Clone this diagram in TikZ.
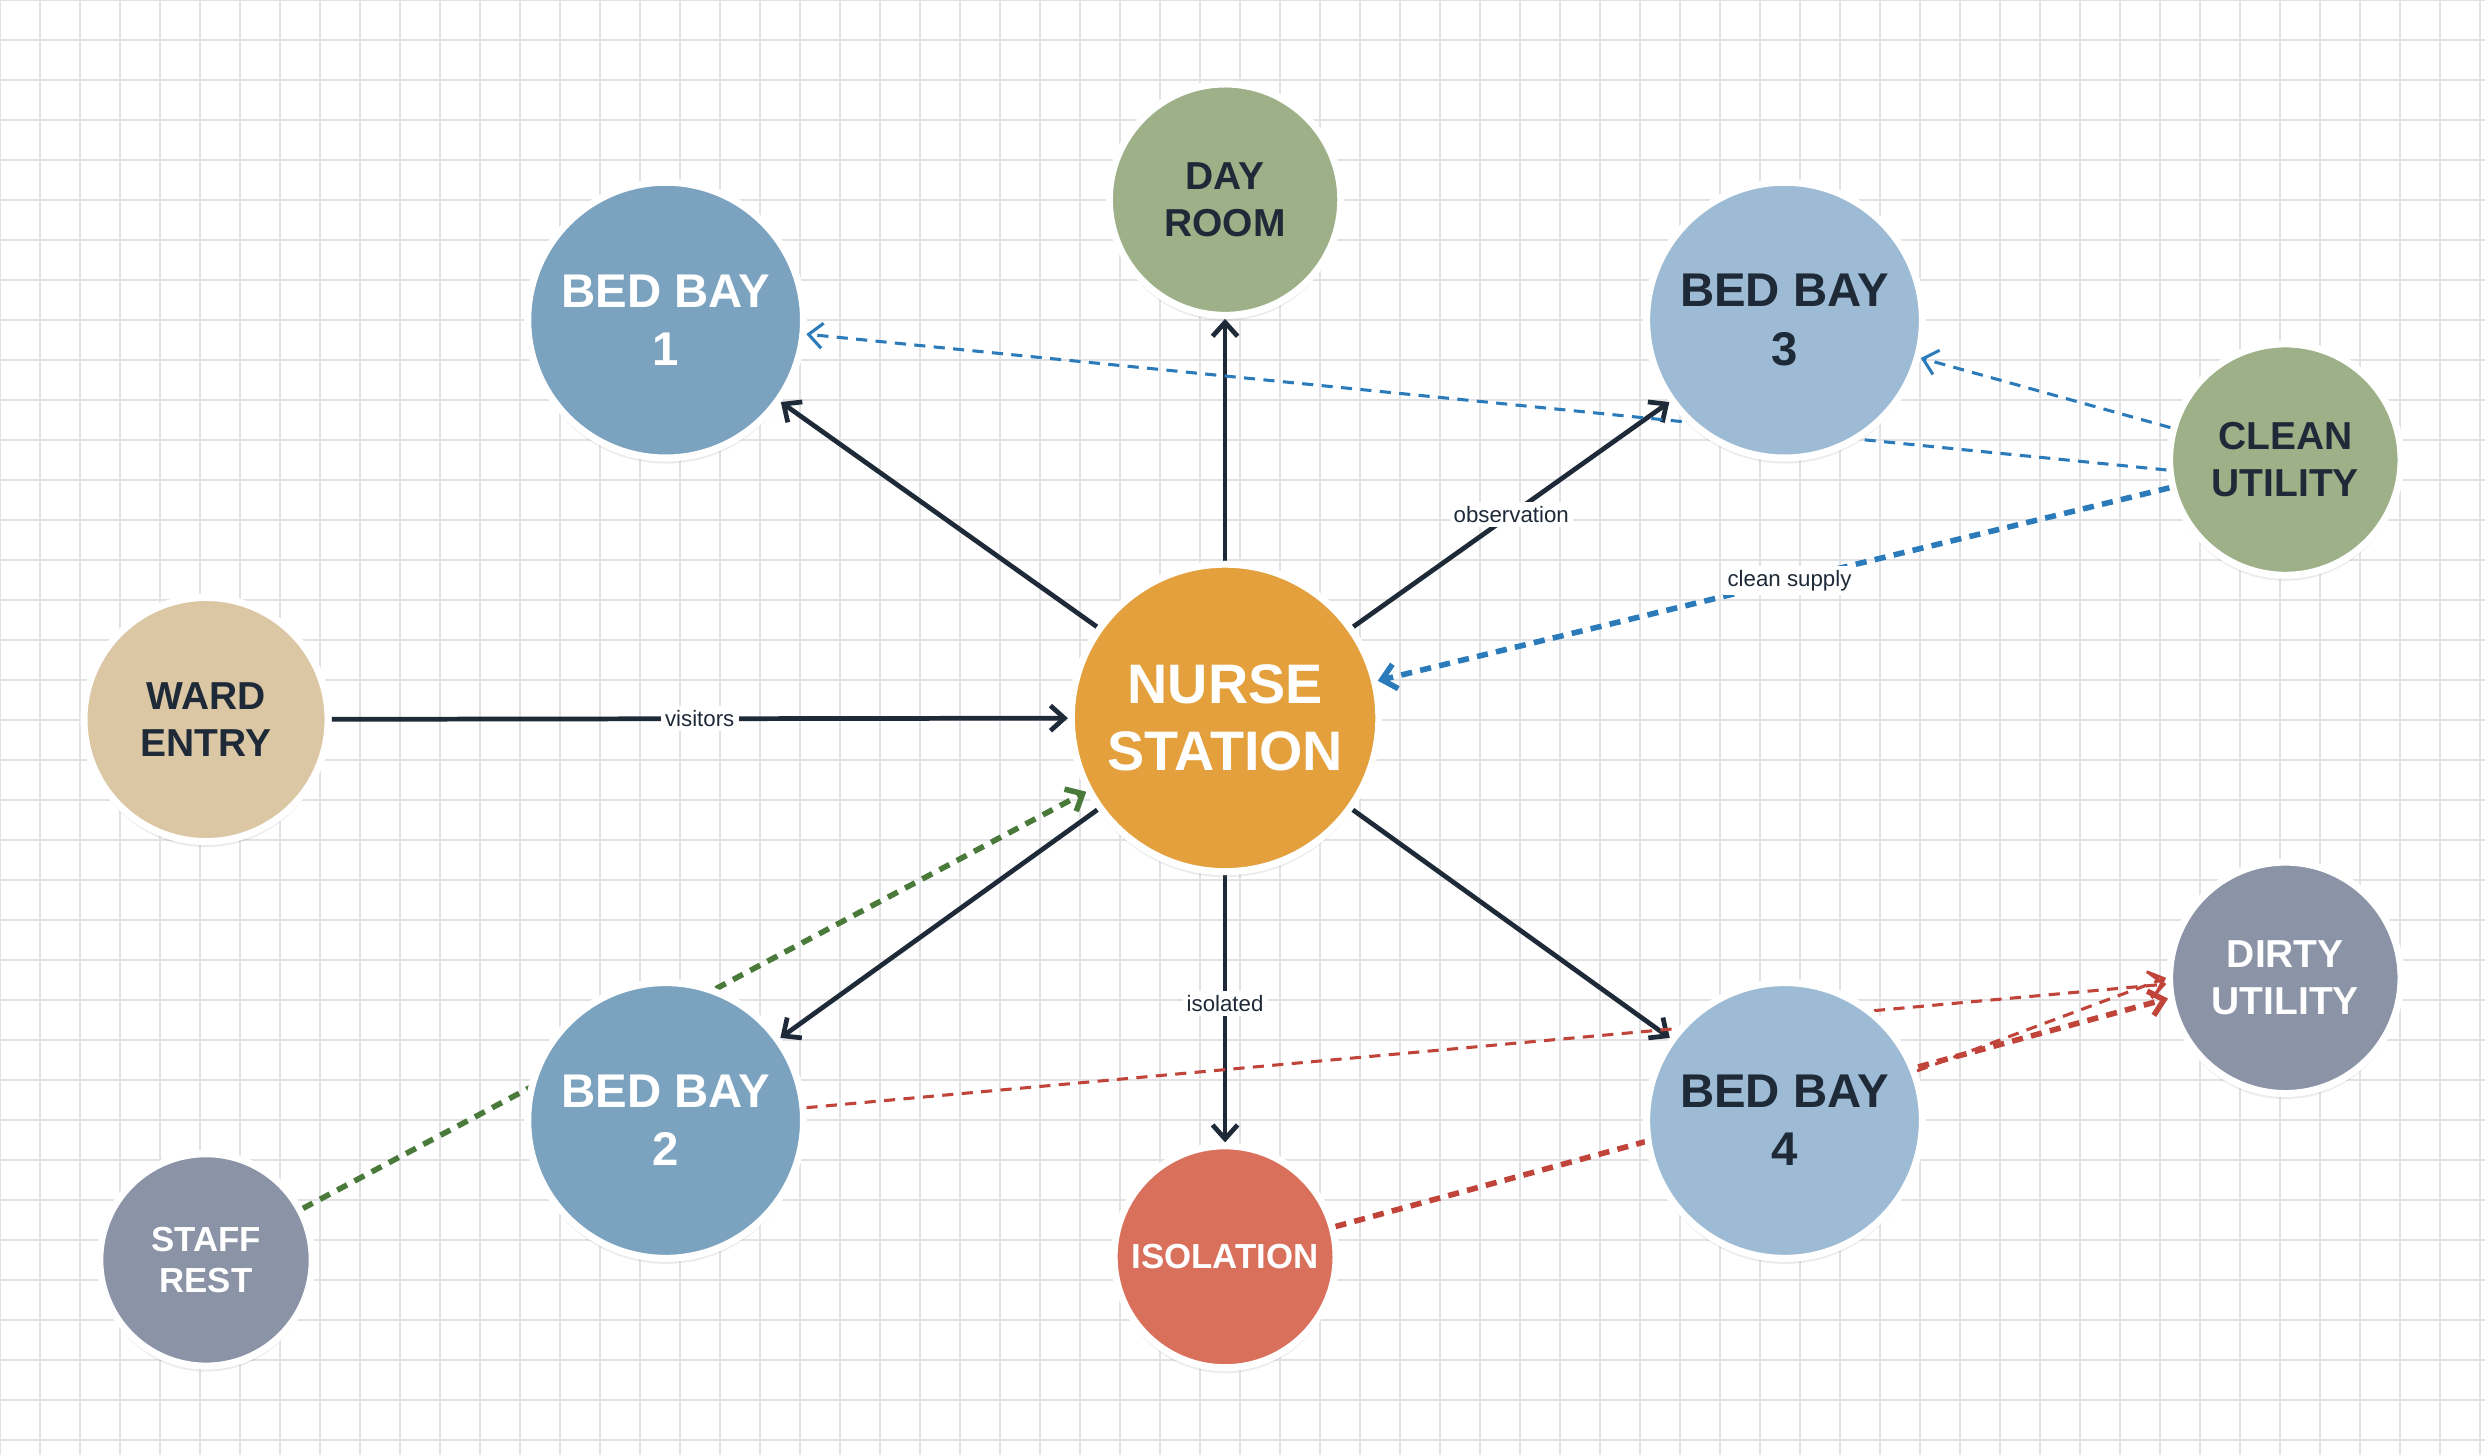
\documentclass[tikz,border=0pt]{standalone}
\usepackage{fontspec}
\setmainfont{Liberation Sans}
\usetikzlibrary{arrows.meta,backgrounds,shadows}
\definecolor{ink}{HTML}{1F2A38}
\definecolor{nurse}{HTML}{E3A03C}
\definecolor{bayA}{HTML}{7BA3C0}
\definecolor{bayB}{HTML}{9DBBD4}
\definecolor{sage}{HTML}{9DB088}
\definecolor{sand}{HTML}{DCC7A4}
\definecolor{slate}{HTML}{8B93A7}
\definecolor{iso}{HTML}{D9705C}
\definecolor{cblue}{HTML}{2B7BBA}
\definecolor{cgreen}{HTML}{4A7A3A}
\definecolor{cred}{HTML}{C0443A}
\definecolor{gridc}{HTML}{E2E2E4}
\begin{document}
\begin{tikzpicture}[x=0.02cm,y=-0.02cm,>={Straight Barb[length=5pt,width=9pt]},
room/.style={circle,draw=white,line width=2.5pt,inner sep=0pt,align=center,font=\bfseries,
  drop shadow={opacity=0.15,shadow xshift=0pt,shadow yshift=-2pt}},
flow/.style={draw=ink,line width=1.7pt,->},
lab/.style={fill=white,inner sep=1.5pt,font=\fontsize{8}{9}\selectfont,text=ink},
thin/.style={dash pattern=on 4pt off 3pt,line width=1.1pt,->},
thick/.style={dash pattern=on 4pt off 3pt,line width=2pt,->}]
\useasboundingbox (0,0) rectangle (1568,918);
\begin{scope}[on background layer]
\fill[white] (0,0) rectangle (1568,918);
\foreach \i in {0,...,62}{\draw[gridc,line width=0.5pt] (\i*25.24,0) -- (\i*25.24,918);};
\foreach \i in {0,...,36}{\draw[gridc,line width=0.5pt] (0,\i*25.24) -- (1568,\i*25.24);};
\end{scope}
\node[room,fill=nurse,text=white,minimum size=3.88cm,font=\bfseries\fontsize{20}{24}\selectfont] (ns) at (773,453) {NURSE\\STATION};
\node[room,fill=bayA,text=white,minimum size=3.48cm,font=\bfseries\fontsize{17}{21}\selectfont] (b1) at (420,202) {BED BAY\\1};
\node[room,fill=bayB,text=ink,minimum size=3.48cm,font=\bfseries\fontsize{17}{21}\selectfont] (b3) at (1126,202) {BED BAY\\3};
\node[room,fill=bayA,text=white,minimum size=3.48cm,font=\bfseries\fontsize{17}{21}\selectfont] (b2) at (420,707) {BED BAY\\2};
\node[room,fill=bayB,text=ink,minimum size=3.48cm,font=\bfseries\fontsize{17}{21}\selectfont] (b4) at (1126,707) {BED BAY\\4};
\node[room,fill=sage,text=ink,minimum size=2.92cm,font=\bfseries\fontsize{14}{17}\selectfont] (day) at (773,126) {DAY\\ROOM};
\node[room,fill=sand,text=ink,minimum size=3.08cm,font=\bfseries\fontsize{14}{17}\selectfont] (ward) at (130,454) {WARD\\ENTRY};
\node[room,fill=sage,text=ink,minimum size=2.92cm,font=\bfseries\fontsize{14}{17}\selectfont] (clean) at (1442,290) {CLEAN\\UTILITY};
\node[room,fill=slate,text=white,minimum size=2.92cm,font=\bfseries\fontsize{14}{17}\selectfont] (dirty) at (1442,617) {DIRTY\\UTILITY};
\node[room,fill=iso,text=white,minimum size=2.8cm,font=\bfseries\fontsize{12.5}{15}\selectfont] (iso) at (773,793) {ISOLATION};
\node[room,fill=slate,text=white,minimum size=2.68cm,font=\bfseries\fontsize{12.5}{15}\selectfont] (rest) at (130,795) {STAFF\\REST};
\begin{scope}[on background layer]
\draw[flow] (ns) -- (b1);
\draw[flow] (ns) -- (day);
\draw[flow] (ns) -- node[lab,pos=0.5]{observation} (b3);
\draw[flow] (ns) -- (b2);
\draw[flow] (ns) -- (b4);
\draw[flow] (ns) -- node[lab,pos=0.48]{isolated} (iso);
\draw[flow] (ward) -- node[lab,pos=0.5]{visitors} (ns);
\draw[thin,cblue] (clean) -- (b3);
\draw[thin,cblue] (clean.185) -- (b1);
\draw[thick,cblue] (clean) -- node[lab,pos=0.48]{clean supply} (ns);
\draw[thick,cgreen] (rest) -- (ns);
\draw[thin,cred] (b2) -- (dirty.183);
\draw[thin,cred] (b4) -- (dirty.180);
\draw[thick,cred] (iso) -- (dirty.190);
\end{scope}
\end{tikzpicture}
\end{document}
